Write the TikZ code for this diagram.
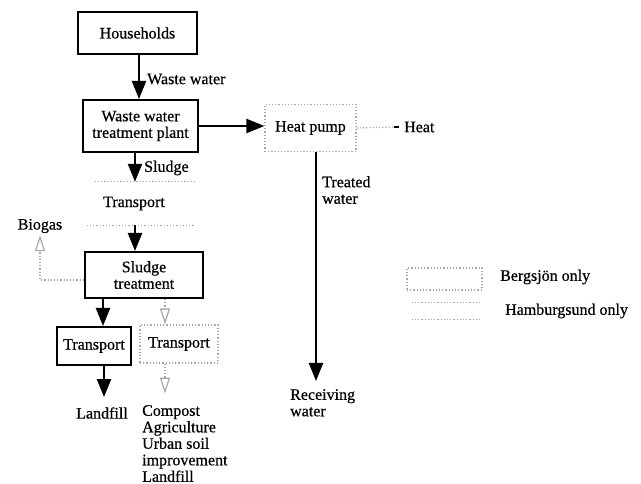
\documentclass[tikz,border=0pt]{standalone}
\usepackage{fontspec}
\setmainfont{Liberation Serif}[FakeBold=0.6]
\usetikzlibrary{arrows.meta}
\begin{document}
\begin{tikzpicture}[x=1pt,y=-1pt,
  every node/.style={font=\fontsize{16}{16.5}\selectfont, inner sep=0pt},
  solidbox/.style={draw, line width=2pt, align=center},
  dotbox/.style={draw=black!35, dotted, line width=1.2pt, align=center},
  plainbox/.style={align=center},
  arr/.style={line width=2.2pt, -{Triangle[length=18pt,width=14pt]}},
  darr/.style={draw=black!35, dotted, line width=1.2pt, -{Triangle[open,length=16pt,width=10pt]}},
  gline/.style={draw=black!35, dotted, line width=1.2pt},
  lbl/.style={anchor=west, align=left}]
\useasboundingbox (0,0) rectangle (641,484);
% nodes
\node[solidbox, minimum width=119, minimum height=42] (hh) at (137.5,33) {Households};
\node[solidbox, minimum width=115, minimum height=52] (wwtp) at (140.5,126) {Waste water\\treatment plant};
\node[dotbox, minimum width=91, minimum height=47] (hp) at (310.5,128) {Heat pump};
\node[lbl] (heat) at (404,127) {Heat};
\node[plainbox, minimum width=108, minimum height=43] (ht) at (141,203.5) {\hspace*{-14pt}Transport};
\node (biogas) at (40,226) {Biogas};
\node[solidbox, minimum width=118, minimum height=46] (st) at (144,275) {Sludge\\treatment};
\node[solidbox, minimum width=74, minimum height=38] (t1) at (94,346) {Transport};
\node[dotbox, minimum width=78, minimum height=38] (t2) at (179,344) {Transport};
\node (lf) at (102,413) {Landfill};
\node[anchor=north west, align=left] (uses) at (142,405) {Compost\\Agriculture\\Urban soil\\improvement\\Landfill};
\node[anchor=north west, align=left] (rw) at (290,389) {Receiving\\water};
\node[lbl] (tw) at (322,190) {Treated\\water};
\node[lbl] (wwl) at (147,79) {Waste water};
\node[lbl] (sl) at (144,168) {Sludge};
% legend
\node[dotbox, minimum width=75, minimum height=22] (legb) at (444.5,279) {};
\node[lbl] (legbt) at (500,277) {Bergsj\"on only};
\node[minimum width=70, minimum height=16] (legh) at (447,311) {};
\node[lbl] (leght) at (505,311) {Hamburgsund only};
\draw[gline] (legh.north west) -- (legh.north east);
\draw[gline] (legh.south west) -- (legh.south east);
% Hamburgsund transport edges
\draw[gline] ([xshift=8]ht.north west) -- (ht.north east);
\draw[gline] (ht.south west) -- (ht.south east);
% connectors
\draw[arr] ([xshift=1.5]hh.south) -- ([xshift=-1.5]wwtp.north);
\draw[arr] (wwtp.east) -- (wwtp.east -| hp.west);
\draw[gline] (hp.east) -- ([xshift=-11]heat.west);
\draw[line width=1.2pt] ([xshift=-10]heat.west) -- ([xshift=-5]heat.west);
\draw[arr] ([xshift=-5.5]wwtp.south) -- ([xshift=-6]ht.north);
\draw[arr] ([xshift=-6]ht.south) -- ([xshift=-9]st.north);
\draw[darr] ([yshift=-5]st.west) -| ([yshift=-2]biogas.south);
\draw[arr] ([xshift=-41]st.south) -- ([xshift=9]t1.north);
\draw[darr] ([xshift=21]st.south) -- ([xshift=-14]t2.north);
\draw[arr] ([xshift=10]t1.south) -- ([xshift=2,yshift=10]lf.north);
\draw[darr] ([xshift=-14]t2.south) -- ([xshift=-14,yshift=-30]t2.south);
\draw[arr] ([xshift=5.5]hp.south) -- ([xshift=5.5,yshift=8]hp.south |- rw.north);
\end{tikzpicture}
\end{document}
